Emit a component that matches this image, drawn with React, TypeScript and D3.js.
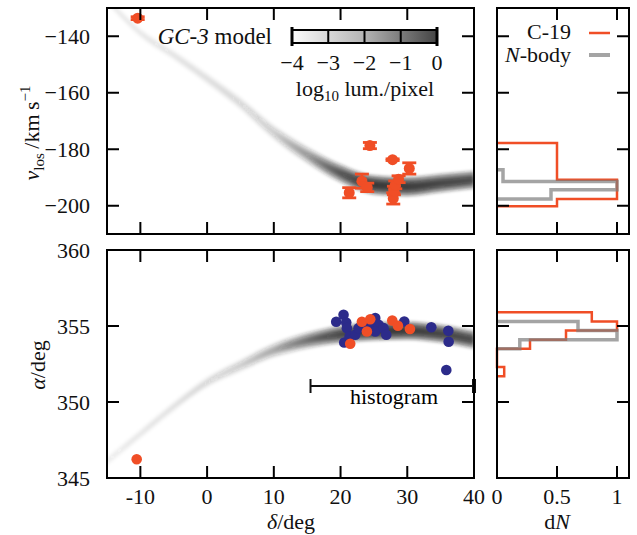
import React, { useEffect, useRef } from "react";
import * as d3 from "d3";

// GC-3 model stream track
const trackDelta = [-15, -10, -5, 0, 5, 10, 15, 20, 25, 30, 35, 40];
const trackVlos = [-127, -138.8, -146.7, -155, -163.8, -174, -182, -188.5, -192.6, -193.2, -192, -190.8];
const trackVlosWidth = [1.8, 1.8, 1.9, 2.1, 2.4, 2.7, 3.0, 3.3, 3.4, 3.4, 3.3, 3.2];
const trackVlosDensity = [0.05, 0.06, 0.07, 0.08, 0.1, 0.15, 0.33, 0.68, 1, 0.95, 0.85, 0.8];
const trackAlpha = [346.1, 347.9, 349.7, 351.3, 352.4, 353.4, 354.05, 354.45, 354.65, 354.7, 354.5, 354.1];
const trackAlphaWidth = [0.33, 0.34, 0.35, 0.37, 0.42, 0.48, 0.54, 0.58, 0.6, 0.6, 0.6, 0.6];
const trackAlphaDensity = [0.045, 0.06, 0.075, 0.1, 0.15, 0.27, 0.52, 0.82, 1, 0.95, 0.85, 0.8];

// C-19 line-of-sight velocities
const vDelta = [-10.4, 21.3, 23.2, 24.0, 24.4, 27.8, 27.9, 28.0, 28.2, 28.7, 30.3];
const vLos = [-133.6, -195.4, -191.3, -193.5, -178.7, -183.7, -197.4, -194.6, -192.6, -190.6, -186.8];
const vErr = [0.5, 1.8, 2.5, 1.5, 1.1, 0.3, 2.0, 1.5, 1.4, 1.2, 2.0];

// positions on the sky
const blueDelta = [19.35, 20.45, 20.85, 20.95, 20.55, 21.35, 22.2, 22.7, 23.45, 23.95, 24.7, 25.2, 25.7, 25.2, 26.45, 26.85, 29.55, 33.6, 36.15, 36.2, 35.85];
const blueAlpha = [355.28, 355.74, 355.23, 354.86, 353.91, 354.31, 354.42, 354.86, 355.08, 354.75, 355.08, 355.52, 355.08, 354.64, 354.86, 354.42, 355.3, 354.92, 354.69, 353.96, 352.11];
const redDelta = [21.45, 23.2, 24.45, 23.95, 27.75, 28.6, 30.4, -10.55];
const redAlpha = [353.83, 355.28, 355.44, 354.64, 355.36, 355.02, 354.8, 346.23];

// histograms (bin edges, normalised counts)
const histVEdgesC19 = [-177.8, -190.8, -197.6, -200.2];
const histVC19 = [0.5, 1.0, 0.5];
const histVEdgesNbody = [-187.3, -191.4, -194.3, -197.6];
const histVNbody = [0.05, 1.0, 0.45];
const histAEdgesC19 = [355.9, 355.3, 354.7, 354.1, 353.5, 352.9, 352.3, 351.7];
const histAC19 = [0.79, 1.0, 0.575, 0.275, 0, 0, 0.06];
const histAEdgesNbody = [355.3, 354.7, 354.1, 353.5];
const histANbody = [0.675, 1.0, 0.19];

const histRange = [15.5, 40];
const colorbarTicks = [-4, -3, -2, -1, 0];
const deltaTicks = [-10, 0, 10, 20, 30, 40];
const vTicks = [-140, -160, -180, -200];
const alphaTicks = [360, 355, 350, 345];
const dnTicks = [0, 0.5, 1];

const RED = "#f04e26";
const BLUE = "#2c2b8a";
const FONT = "Liberation Serif, Times New Roman, serif";

export default function App() {
  const svgRef = useRef<SVGSVGElement>(null);

  useEffect(() => {
    if (!svgRef.current) return;
    const svg = d3.select(svgRef.current);
    svg.selectAll("*").remove();

    const x = d3.scaleLinear().domain([-15, 40]).range([107, 474]);
    const yV = d3.scaleLinear().domain([-130, -210]).range([8, 234]);
    const yA = d3.scaleLinear().domain([360, 345]).range([250, 478]);
    const xH = d3.scaleLinear().domain([0, 1.1]).range([497, 629]);

    const defs = svg.append("defs");
    defs.append("filter").attr("id", "blur")
      .attr("x", "-10%").attr("y", "-10%").attr("width", "120%").attr("height", "120%")
      .append("feGaussianBlur").attr("stdDeviation", 1.6);
    [["clipTop", yV], ["clipBot", yA]].forEach(([id, ys]: any) => {
      const r = ys.range();
      defs.append("clipPath").attr("id", id).append("rect")
        .attr("x", 107).attr("y", Math.min(r[0], r[1]))
        .attr("width", 367).attr("height", Math.abs(r[1] - r[0]));
    });

    // density band along the model stream
    const band = (id: string, center: number[], width: number[], dens: number[], ys: d3.ScaleLinear<number, number>, clip: string) => {
      const grad = defs.append("linearGradient").attr("id", id)
        .attr("gradientUnits", "userSpaceOnUse")
        .attr("x1", x(-15)).attr("x2", x(40)).attr("y1", 0).attr("y2", 0);
      trackDelta.forEach((d, i) => {
        grad.append("stop")
          .attr("offset", (d + 15) / 55)
          .attr("stop-color", "#1e1e1e")
          .attr("stop-opacity", dens[i] * 0.42);
      });
      const g = svg.append("g").attr("clip-path", `url(#${clip})`)
        .append("g").attr("filter", "url(#blur)");
      [1, 0.72, 0.48, 0.26].forEach(k => {
        const area = d3.area<number>()
          .x(i => x(trackDelta[i]))
          .y0(i => ys(center[i] + width[i] * k))
          .y1(i => ys(center[i] - width[i] * k))
          .curve(d3.curveMonotoneX);
        g.append("path").attr("d", area(d3.range(trackDelta.length)))
          .attr("fill", `url(#${id})`);
      });
    };
    band("gradTop", trackVlos, trackVlosWidth, trackVlosDensity, yV, "clipTop");
    band("gradBot", trackAlpha, trackAlphaWidth, trackAlphaDensity, yA, "clipBot");

    // velocity points with error bars
    const pts = svg.append("g").attr("clip-path", "url(#clipTop)");
    vDelta.forEach((d, i) => {
      const cx = x(d);
      const ya = yV(vLos[i] + vErr[i]);
      const yb = yV(vLos[i] - vErr[i]);
      pts.append("line").attr("x1", cx).attr("x2", cx).attr("y1", ya).attr("y2", yb)
        .attr("stroke", RED).attr("stroke-width", 2.5);
      [ya, yb].forEach(yy => {
        pts.append("line").attr("x1", cx - 7).attr("x2", cx + 7).attr("y1", yy).attr("y2", yy)
          .attr("stroke", RED).attr("stroke-width", 2.8);
      });
      pts.append("circle").attr("cx", cx).attr("cy", yV(vLos[i])).attr("r", 5.5).attr("fill", RED);
    });

    // sky positions
    const sky = svg.append("g").attr("clip-path", "url(#clipBot)");
    blueDelta.forEach((d, i) => {
      sky.append("circle").attr("cx", x(d)).attr("cy", yA(blueAlpha[i])).attr("r", 5.3).attr("fill", BLUE);
    });
    redDelta.forEach((d, i) => {
      sky.append("circle").attr("cx", x(d)).attr("cy", yA(redAlpha[i])).attr("r", 5.3).attr("fill", RED);
    });

    // histogram range marker
    const hy = 386;
    svg.append("line").attr("x1", x(histRange[0])).attr("x2", x(histRange[1])).attr("y1", hy).attr("y2", hy)
      .attr("stroke", "#111").attr("stroke-width", 2);
    histRange.forEach((d, i) => {
      svg.append("line").attr("x1", x(d)).attr("x2", x(d)).attr("y1", hy - 7).attr("y2", hy + 7)
        .attr("stroke", "#111").attr("stroke-width", i ? 4 : 2);
    });
    svg.append("text").attr("x", 394).attr("y", 404).attr("text-anchor", "middle")
      .attr("font-family", FONT).attr("font-size", 22).text("histogram");

    // step histograms
    const stepLine = (edges: number[], vals: number[], ys: d3.ScaleLinear<number, number>) => {
      const p: [number, number][] = [[xH(0), ys(edges[0])]];
      vals.forEach((v, i) => {
        p.push([xH(v), ys(edges[i])]);
        p.push([xH(v), ys(edges[i + 1])]);
      });
      p.push([xH(0), ys(edges[edges.length - 1])]);
      return d3.line()(p);
    };
    const hist = svg.append("g").attr("fill", "none");
    hist.append("path").attr("d", stepLine(histVEdgesC19, histVC19, yV)).attr("stroke", RED).attr("stroke-width", 2.5);
    hist.append("path").attr("d", stepLine(histAEdgesC19, histAC19, yA)).attr("stroke", RED).attr("stroke-width", 2.5);
    hist.append("path").attr("d", stepLine(histVEdgesNbody, histVNbody, yV)).attr("stroke", "#7e7e7e")
      .attr("stroke-opacity", 0.7).attr("stroke-width", 3.5);
    hist.append("path").attr("d", stepLine(histAEdgesNbody, histANbody, yA)).attr("stroke", "#7e7e7e")
      .attr("stroke-opacity", 0.7).attr("stroke-width", 3.5);

    // frames and ticks
    const frame = (xs: d3.ScaleLinear<number, number>, ys: d3.ScaleLinear<number, number>, xt: number[], yt: number[]) => {
      const [x0, x1] = xs.range();
      const [y0, y1] = ys.range();
      const g = svg.append("g").attr("stroke", "#000").attr("stroke-width", 2);
      xt.forEach(t => {
        g.append("line").attr("x1", xs(t)).attr("x2", xs(t)).attr("y1", y1).attr("y2", y1 - 12);
        g.append("line").attr("x1", xs(t)).attr("x2", xs(t)).attr("y1", y0).attr("y2", y0 + 12);
      });
      yt.forEach(t => {
        g.append("line").attr("x1", x0).attr("x2", x0 + 12).attr("y1", ys(t)).attr("y2", ys(t));
        g.append("line").attr("x1", x1).attr("x2", x1 - 12).attr("y1", ys(t)).attr("y2", ys(t));
      });
      g.append("rect").attr("x", x0).attr("y", y0).attr("width", x1 - x0).attr("height", y1 - y0)
        .attr("fill", "none");
    };
    frame(x, yV, [-10, 0, 10, 20, 30], [-140, -160, -180, -200]);
    frame(x, yA, [-10, 0, 10, 20, 30], [355, 350]);
    frame(xH, yV, [0.5, 1], [-140, -160, -180, -200]);
    frame(xH, yA, [0.5, 1], [355, 350]);

    const txt = svg.append("g").attr("font-family", FONT).attr("font-size", 22).attr("fill", "#111");
    vTicks.forEach(t => {
      txt.append("text").attr("x", 90).attr("y", yV(t) + 7.5).attr("text-anchor", "end")
        .text(String(t).replace("-", "\u2212"));
    });
    alphaTicks.forEach(t => {
      txt.append("text").attr("x", 90).attr("y", yA(t) + 7.5).attr("text-anchor", "end").text(t);
    });
    deltaTicks.forEach(t => {
      txt.append("text").attr("x", x(t)).attr("y", 504).attr("text-anchor", "middle").text(t);
    });
    dnTicks.forEach(t => {
      txt.append("text").attr("x", xH(t)).attr("y", 504).attr("text-anchor", "middle").text(t);
    });

    // axis titles
    const xt = txt.append("text").attr("x", 291).attr("y", 529).attr("text-anchor", "middle");
    xt.append("tspan").attr("font-style", "italic").text("\u03b4");
    xt.append("tspan").text("/deg");
    const dn = txt.append("text").attr("x", xH(0.5)).attr("y", 529).attr("text-anchor", "middle");
    dn.append("tspan").text("d");
    dn.append("tspan").attr("font-style", "italic").text("N");

    const yt1 = txt.append("text").attr("transform", "translate(39,133) rotate(-90)").attr("text-anchor", "middle");
    yt1.append("tspan").attr("font-style", "italic").text("v");
    yt1.append("tspan").attr("font-size", 15).attr("dy", 5).text("los");
    yt1.append("tspan").attr("dy", -5).text("\u2009/km\u2009s");
    yt1.append("tspan").attr("font-size", 15).attr("dy", -9).text("\u22121");

    const yt2 = txt.append("text").attr("transform", "translate(45,365) rotate(-90)").attr("text-anchor", "middle");
    yt2.append("tspan").attr("font-style", "italic").text("\u03b1");
    yt2.append("tspan").text("/deg");

    // model label and colour bar
    const lab = txt.append("text").attr("x", 272).attr("y", 44).attr("text-anchor", "end").attr("font-size", 23);
    lab.append("tspan").attr("font-style", "italic").text("GC-3");
    lab.append("tspan").text(" model");

    const cb = d3.scaleLinear().domain([-4, 0]).range([292, 437]);
    const cg = defs.append("linearGradient").attr("id", "cbar");
    cg.append("stop").attr("offset", 0).attr("stop-color", "#fbfbfb");
    cg.append("stop").attr("offset", 0.5).attr("stop-color", "#b4b4b4");
    cg.append("stop").attr("offset", 1).attr("stop-color", "#444");
    svg.append("rect").attr("x", cb(-4)).attr("y", 30).attr("width", cb(0) - cb(-4)).attr("height", 13)
      .attr("fill", "url(#cbar)").attr("stroke", "#000").attr("stroke-width", 2);
    colorbarTicks.forEach((t, i) => {
      const end = i === 0 || i === colorbarTicks.length - 1;
      svg.append("line").attr("x1", cb(t)).attr("x2", cb(t))
        .attr("y1", end ? 27 : 30).attr("y2", end ? 46 : 43)
        .attr("stroke", "#000").attr("stroke-width", end ? 3 : 2);
      txt.append("text").attr("x", cb(t)).attr("y", 70).attr("text-anchor", "middle")
        .text(String(t).replace("-", "\u2212"));
    });
    const lum = txt.append("text").attr("x", 365).attr("y", 95.5).attr("text-anchor", "middle");
    lum.append("tspan").text("log");
    lum.append("tspan").attr("font-size", 15).attr("dy", 5).text("10");
    lum.append("tspan").attr("dy", -5).text(" lum./pixel");

    // legend
    txt.append("text").attr("x", 571).attr("y", 39).attr("text-anchor", "end").text("C-19");
    const nb = txt.append("text").attr("x", 571).attr("y", 62).attr("text-anchor", "end");
    nb.append("tspan").attr("font-style", "italic").text("N");
    nb.append("tspan").text("-body");
    svg.append("line").attr("x1", 589).attr("x2", 610).attr("y1", 33).attr("y2", 33)
      .attr("stroke", RED).attr("stroke-width", 2.5);
    svg.append("line").attr("x1", 589).attr("x2", 610).attr("y1", 55).attr("y2", 55)
      .attr("stroke", "#7e7e7e").attr("stroke-opacity", 0.7).attr("stroke-width", 4);
  }, []);

  return (
    <svg ref={svgRef} width={637} height={535}
      style={{ position: "absolute", left: 0, top: 0, background: "#fff" }} />
  );
}
